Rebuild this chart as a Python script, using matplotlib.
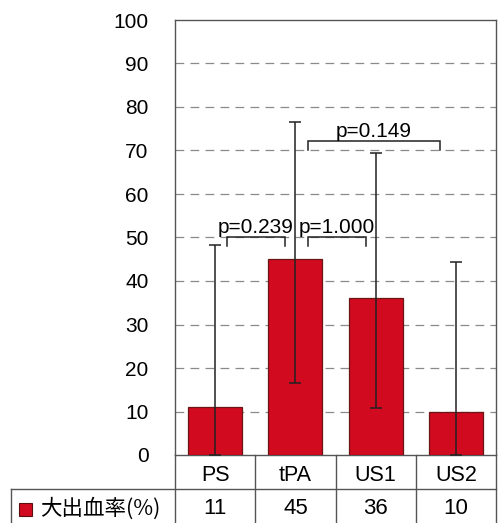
import matplotlib
matplotlib.use("Agg")
import matplotlib.pyplot as plt
from matplotlib.lines import Line2D
from matplotlib.patches import Rectangle

plt.rcParams['font.family'] = ['Liberation Sans', 'Noto Sans CJK JP', 'DejaVu Sans']

# Data
groups = ["PS", "tPA", "US1", "US2"]
rates = [11, 45, 36, 10]
ci_low = [0, 16.5, 10.8, 0]
ci_high = [48.3, 76.6, 69.4, 44.4]
row_label = "大出血率(%)"
y_ticks = [0, 10, 20, 30, 40, 50, 60, 70, 80, 90, 100]

# comparisons: (left x, right x, bracket y, label)
comparisons = [
    (0.15, 0.87, 50.1, "p=0.239"),
    (1.16, 1.88, 50.1, "p=1.000"),
    (1.16, 2.80, 72.2, "p=0.149"),
]

W, H = 498, 523
fig = plt.figure(figsize=(W / 100, H / 100), dpi=100)
ax_l, ax_r, ax_t, ax_b = 175, 496, 20, 455
ax = fig.add_axes([ax_l / W, 1 - ax_b / H, (ax_r - ax_l) / W, (ax_b - ax_t) / H])

bar_color = "#d10a1f"
xs = list(range(len(groups)))
ax.bar(xs, rates, width=0.67, color=bar_color, edgecolor="#6b1515", linewidth=0.9, zorder=3)
yerr = [[r - lo for r, lo in zip(rates, ci_low)], [hi - r for r, hi in zip(rates, ci_high)]]
ax.errorbar(xs, rates, yerr=yerr, fmt="none", ecolor="#222222", elinewidth=1.1,
            capsize=4.5, capthick=1.1, zorder=4)

ax.set_xlim(-0.5, 3.5)
ax.set_ylim(0, 100)
ax.set_yticks(y_ticks)
ax.set_yticklabels([str(t) for t in y_ticks], fontsize=15)
ax.tick_params(axis="y", length=0, pad=19)
ax.set_xticks([])
for y in y_ticks[1:-1]:
    ax.axhline(y, color="#8a8a8a", linewidth=0.9, dashes=(7, 5), zorder=1)
for s in ax.spines.values():
    s.set_color("#555555")
    s.set_linewidth(1.0)

# significance brackets
for x0, x1, yb, label in comparisons:
    ax.plot([x0, x0, x1, x1], [yb - 2.1, yb, yb, yb - 2.1], color="#222222",
            linewidth=1.1, zorder=5, solid_joinstyle="miter")
    ax.text((x0 + x1) / 2, yb + 1.0, label, ha="center", va="baseline",
            fontsize=15, zorder=6)

# table under the plot
tr = ax.get_xaxis_transform()
row1_c, row2_c, row_bot = -0.047, -0.124, -0.2
for x, g, r in zip(xs, groups, rates):
    ax.text(x, row1_c, g, transform=tr, ha="center", va="center", fontsize=15.5)
    ax.text(x, row2_c, str(r), transform=tr, ha="center", va="center", fontsize=16)
lc = "#555555"
for xb in [-0.5, 0.5, 1.5, 2.5, 3.5]:
    ax.add_line(Line2D([xb, xb], [0, row_bot], transform=tr, color=lc,
                       linewidth=1.0, clip_on=False))
y_mid_px = 489
fig.add_artist(Line2D([11 / W, ax_r / W], [1 - y_mid_px / H] * 2, color=lc, linewidth=1.0))
fig.add_artist(Line2D([11 / W, 11 / W], [1 - y_mid_px / H, 0], color=lc, linewidth=1.0))

# legend key in the row header
fig.add_artist(Rectangle((19 / W, 1 - 516 / H), 13 / W, 13 / H, transform=fig.transFigure,
                         facecolor=bar_color, edgecolor="#5a1010", linewidth=0.8))
fig.text(40 / W, 1 - 509 / H, row_label, ha="left", va="center", fontsize=15.5,
         family=['Noto Sans CJK JP', 'DejaVu Sans'])

fig.savefig("out.png", dpi=100)
